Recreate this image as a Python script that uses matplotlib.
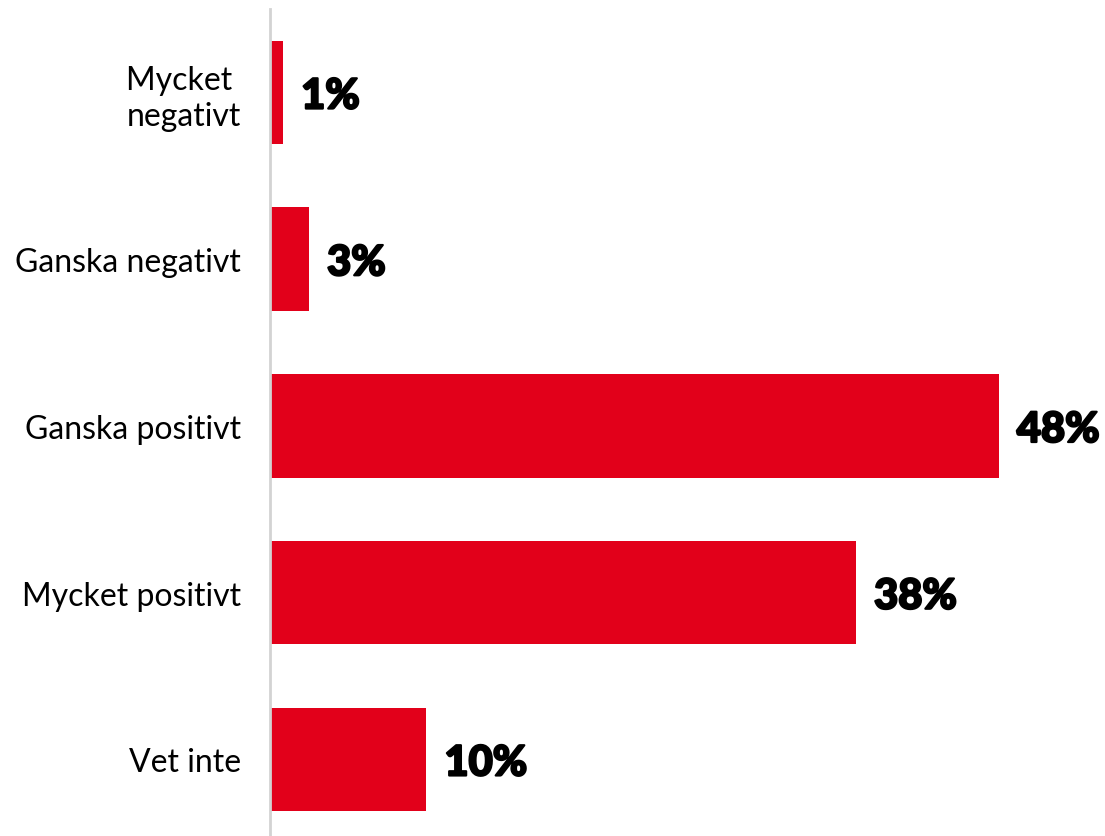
import matplotlib
matplotlib.use("Agg")
import matplotlib.pyplot as plt
import matplotlib.patheffects as pe

categories = ["Mycket \nnegativt", "Ganska negativt", "Ganska positivt", "Mycket positivt", "Vet inte"]
values = [0.86, 2.57, 48.0, 38.6, 10.3]
value_labels = ["1%", "3%", "48%", "38%", "10%"]

bar_color = "#E2001A"

fig = plt.figure(figsize=(11.05, 8.37), dpi=100)
ax = fig.add_axes([270 / 1105, 0, 835 / 1105, 827 / 837])

ax.barh(range(len(categories)), values, height=0.62, color=bar_color)
ax.set_xlim(0, 55)
ax.set_ylim(4.46, -0.50)

# heavy percentage labels
for i, (v, lab) in enumerate(zip(values, value_labels)):
    ax.annotate(lab, (v, i), xytext=(13, -3), textcoords="offset points",
                ha="left", va="center", fontsize=30, family="Lato",
                fontweight="black", color="black",
                path_effects=[pe.withStroke(linewidth=1.6, foreground="black")])

ax.set_yticks(range(len(categories)))
ax.set_yticklabels(categories, family="Lato", fontsize=23, ha="right",
                   linespacing=1.25)
ax.tick_params(axis="y", length=0, pad=21)
ax.set_xticks([])

for side in ["top", "right", "bottom"]:
    ax.spines[side].set_visible(False)
ax.spines["left"].set_color("#d3d3d3")
ax.spines["left"].set_linewidth(2)

fig.savefig("out.png", dpi=100)
